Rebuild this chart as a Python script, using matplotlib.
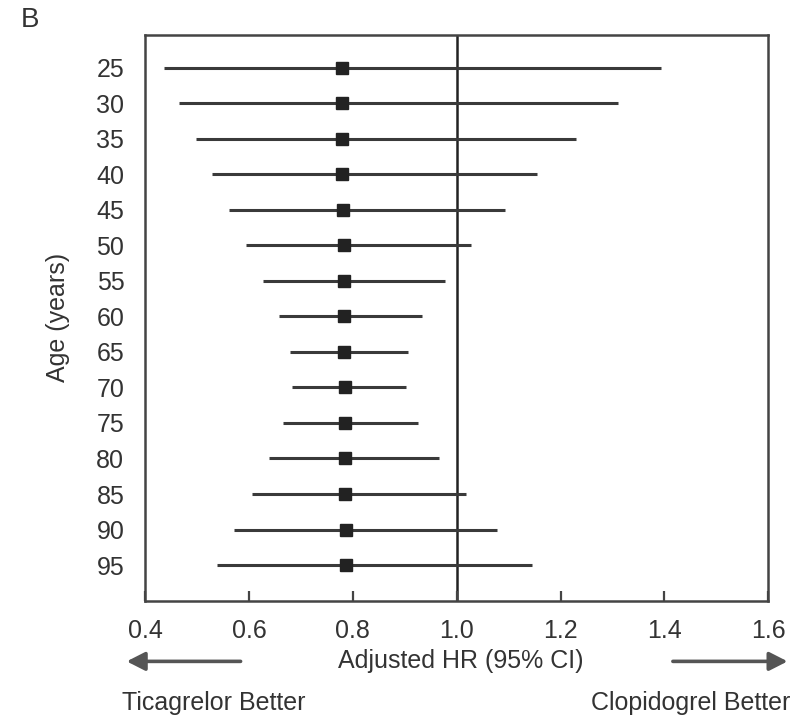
import matplotlib
matplotlib.use("Agg")
import matplotlib.pyplot as plt
from matplotlib.patches import FancyArrowPatch

# Age groups and adjusted hazard ratios (ticagrelor vs clopidogrel)
ages = [25, 30, 35, 40, 45, 50, 55, 60, 65, 70, 75, 80, 85, 90, 95]
hr = [0.779, 0.779, 0.780, 0.780, 0.781, 0.782, 0.782, 0.783,
      0.783, 0.784, 0.784, 0.785, 0.785, 0.786, 0.786]
ci_low = [0.436, 0.465, 0.497, 0.528, 0.561, 0.595, 0.627, 0.658,
          0.679, 0.683, 0.665, 0.639, 0.606, 0.571, 0.539]
ci_high = [1.393, 1.311, 1.230, 1.155, 1.092, 1.028, 0.977, 0.933,
           0.906, 0.902, 0.926, 0.965, 1.017, 1.077, 1.145]
x_ticks = [0.4, 0.6, 0.8, 1.0, 1.2, 1.4, 1.6]

plt.rcParams["font.family"] = ["Liberation Sans", "DejaVu Sans"]
fs = 18
txt_col = "#333333"

fig = plt.figure(figsize=(8.02, 7.15), dpi=100)
ax = fig.add_axes([0.181, 0.160, 0.777, 0.791])

line_col = "#3a3a3a"
for a, lo, hi in zip(ages, ci_low, ci_high):
    ax.plot([lo, hi], [a, a], color=line_col, lw=2.2, solid_capstyle="butt", zorder=2)
ax.plot(hr, ages, ls="none", marker="s", ms=8, color="#222222", zorder=3)

ax.axvline(1.0, color="#222222", lw=1.8, zorder=1)

ax.set_xlim(0.4, 1.6)
ax.set_ylim(100, 20.4)
ax.set_xticks(x_ticks)
ax.set_xticklabels([f"{t:.1f}" for t in x_ticks], fontsize=fs, color=txt_col)
ax.set_yticks(ages)
ax.set_yticklabels([str(a) for a in ages], fontsize=fs, color=txt_col)
ax.tick_params(axis="x", direction="in", length=7, width=1.6, color="#444444", pad=13)
ax.tick_params(axis="y", length=0, pad=15)
for s in ax.spines.values():
    s.set_linewidth(1.8)
    s.set_color("#444444")

ax.set_ylabel("Age (years)", fontsize=fs, color=txt_col, labelpad=19)

fig.text(0.038, 0.972, "B", fontsize=20, color=txt_col, ha="center", va="center")
fig.text(0.575, 0.075, "Adjusted HR (95% CI)", fontsize=fs, color=txt_col,
         ha="center", va="center")
fig.text(0.152, 0.017, "Ticagrelor Better", fontsize=fs, color=txt_col,
         ha="left", va="center")
fig.text(0.986, 0.017, "Clopidogrel Better", fontsize=fs, color=txt_col,
         ha="right", va="center")

arrow_kw = dict(arrowstyle="-|>,head_length=0.55,head_width=0.28", color="#555555",
                lw=2.6, shrinkA=0, shrinkB=0, mutation_scale=20)
fig.add_artist(FancyArrowPatch((0.300, 0.075), (0.158, 0.075),
               transform=fig.transFigure, **arrow_kw))
fig.add_artist(FancyArrowPatch((0.839, 0.075), (0.982, 0.075),
               transform=fig.transFigure, **arrow_kw))

fig.savefig("out.png", dpi=100)
